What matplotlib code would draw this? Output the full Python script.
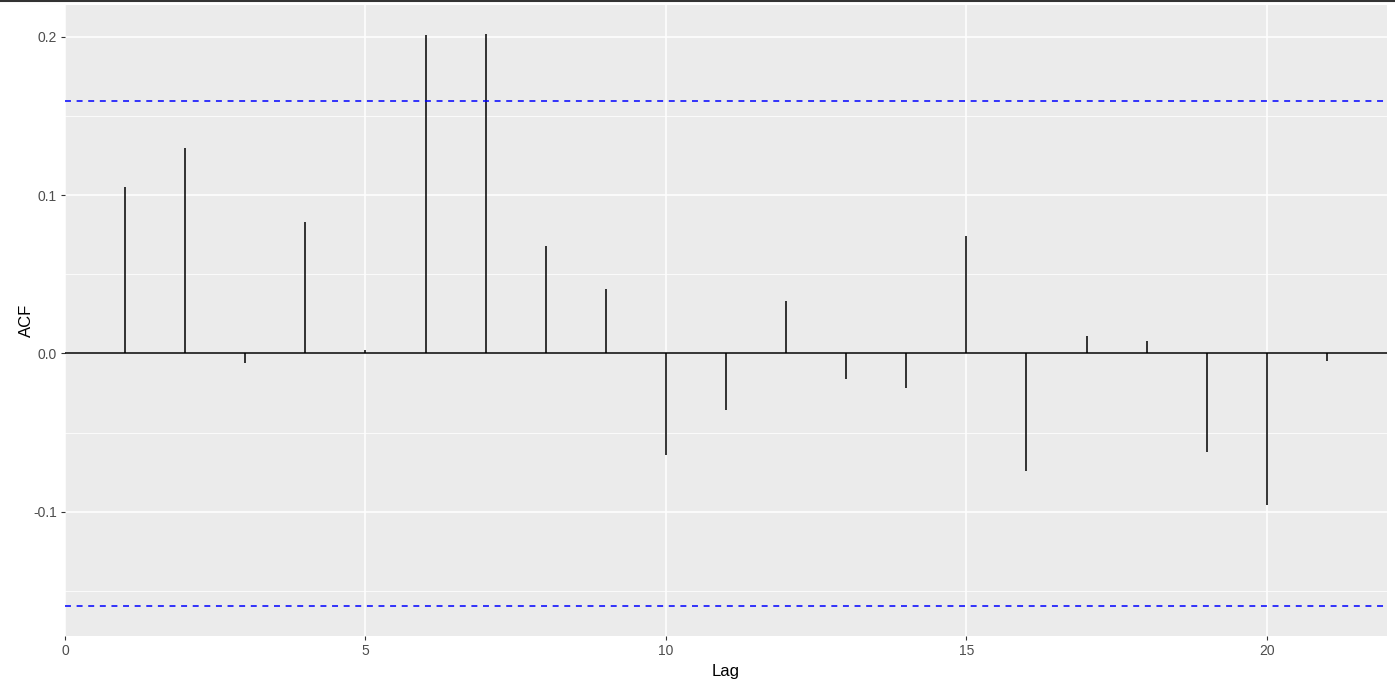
import numpy as np
from matplotlib import pyplot as plt
from matplotlib.ticker import MultipleLocator

plt.rcParams['font.family'] = ['Liberation Sans', 'DejaVu Sans']

# Valores
lags = np.arange(1, 22)
acf = [0.105, 0.130, -0.006, 0.083, 0.002, 0.201, 0.202, 0.068, 0.041, -0.064,
       -0.036, 0.033, -0.016, -0.022, 0.074, -0.074, 0.011, 0.008, -0.062, -0.096,
       -0.005]
limite = 0.1597
limite_inf = -0.1597

fig = plt.figure(figsize=(13.95, 6.81), dpi=100)
ax = fig.add_axes([65 / 1395, 45 / 681, 1322 / 1395, 631 / 681])
ax.set_facecolor('#EBEBEB')
for s in ax.spines.values():
    s.set_visible(False)

ax.set_xlim(0, 22)
ax.set_ylim(-0.1785, 0.2202)
ax.xaxis.set_major_locator(MultipleLocator(5))
ax.yaxis.set_major_locator(MultipleLocator(0.1))
ax.yaxis.set_minor_locator(MultipleLocator(0.05))
ax.grid(which='major', color='white', lw=1.1)
ax.grid(which='minor', axis='y', color='white', lw=0.55)
ax.set_axisbelow(True)

ax.vlines(lags, 0, acf, color='black', lw=1.1)
ax.axhline(0, color='black', lw=1.1)
ax.axhline(limite, color='blue', lw=1.1, ls=(0, (3.9, 3.7)))
ax.axhline(limite_inf, color='blue', lw=1.1, ls=(0, (3.9, 3.7)))

ax.set_yticks([-0.1, 0.0, 0.1, 0.2])
ax.set_yticklabels(['-0.1', '0.0', '0.1', '0.2'])
ax.tick_params(which='major', length=3, width=0.8, color='#333333',
               labelsize=10, labelcolor='#4D4D4D', pad=3)
ax.tick_params(which='minor', length=0)
ax.set_xlabel('Lag', fontsize=12, labelpad=4)
ax.set_ylabel('ACF', fontsize=12, labelpad=-1)

fig.add_artist(plt.Line2D([0, 1], [1 - 1 / 681, 1 - 1 / 681], color='#333333', lw=1.5,
                          transform=fig.transFigure))

fig.savefig('out.png', dpi=100)
